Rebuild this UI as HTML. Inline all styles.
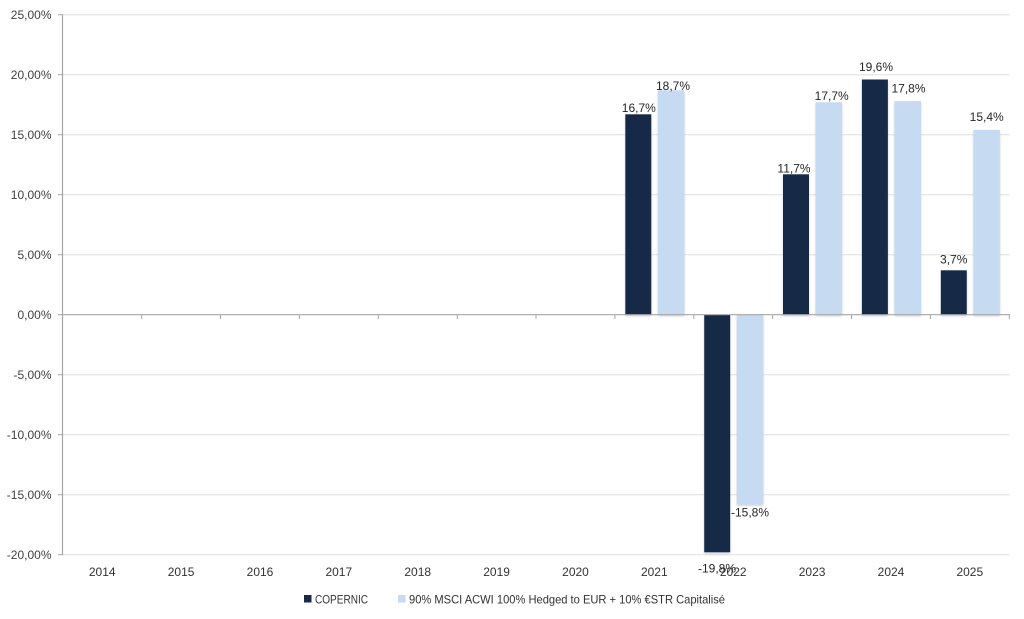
<!DOCTYPE html>
<html>
<head>
<meta charset="utf-8">
<style>
  html,body{margin:0;padding:0;background:#fff;}
  svg{display:block;}
  text{font-family:"Liberation Sans",sans-serif;}
</style>
</head>
<body>
<svg width="1024" height="619" viewBox="0 0 1024 619" xmlns="http://www.w3.org/2000/svg">
  <defs>
    <filter id="sh" x="-20%" y="-5%" width="140%" height="110%">
      <feGaussianBlur in="SourceAlpha" stdDeviation="1"/>
      <feOffset dx="0" dy="1.5" result="b"/>
      <feFlood flood-color="#8a9bb5" flood-opacity="0.45"/>
      <feComposite in2="b" operator="in"/>
      <feMerge><feMergeNode/><feMergeNode in="SourceGraphic"/></feMerge>
    </filter>
  </defs>
  <rect width="1024" height="619" fill="#fff"/>
  <!-- gridlines -->
  <g stroke="#e0e0e0" stroke-width="1">
    <line x1="63" y1="14.7" x2="1010" y2="14.7"/>
    <line x1="63" y1="74.7" x2="1010" y2="74.7"/>
    <line x1="63" y1="134.7" x2="1010" y2="134.7"/>
    <line x1="63" y1="194.7" x2="1010" y2="194.7"/>
    <line x1="63" y1="254.7" x2="1010" y2="254.7"/>
    <line x1="63" y1="374.7" x2="1010" y2="374.7"/>
    <line x1="63" y1="434.7" x2="1010" y2="434.7"/>
    <line x1="63" y1="494.7" x2="1010" y2="494.7"/>
    <line x1="63" y1="554.7" x2="1010" y2="554.7"/>
  </g>
  <!-- y tick marks -->
  <g stroke="#a6a6a6" stroke-width="1">
    <line x1="58" y1="14.7" x2="63" y2="14.7"/>
    <line x1="58" y1="74.7" x2="63" y2="74.7"/>
    <line x1="58" y1="134.7" x2="63" y2="134.7"/>
    <line x1="58" y1="194.7" x2="63" y2="194.7"/>
    <line x1="58" y1="254.7" x2="63" y2="254.7"/>
    <line x1="58" y1="314.7" x2="63" y2="314.7"/>
    <line x1="58" y1="374.7" x2="63" y2="374.7"/>
    <line x1="58" y1="434.7" x2="63" y2="434.7"/>
    <line x1="58" y1="494.7" x2="63" y2="494.7"/>
    <line x1="58" y1="554.7" x2="63" y2="554.7"/>
  </g>
  <!-- bars -->
  <g filter="url(#sh)">
    <rect x="625.3" y="114.3" width="26" height="200.4" fill="#172a46"/>
    <rect x="657.9" y="90.3" width="26.5" height="224.4" fill="#c6daf2"/>
    <rect x="704.2" y="314.7" width="26" height="237.6" fill="#172a46"/>
    <rect x="736.8" y="314.7" width="26.5" height="189.6" fill="#c6daf2"/>
    <rect x="783" y="174.3" width="26" height="140.4" fill="#172a46"/>
    <rect x="815.6" y="102.3" width="26.5" height="212.4" fill="#c6daf2"/>
    <rect x="861.9" y="79.5" width="26" height="235.2" fill="#172a46"/>
    <rect x="894.5" y="101.1" width="26.5" height="213.6" fill="#c6daf2"/>
    <rect x="940.8" y="270.3" width="26" height="44.4" fill="#172a46"/>
    <rect x="973.4" y="129.9" width="26.5" height="184.8" fill="#c6daf2"/>
  </g>
  <!-- axes -->
  <g stroke="#a6a6a6" stroke-width="1.2">
    <line x1="62.5" y1="14.7" x2="62.5" y2="554.7"/>
    <line x1="62.5" y1="314.7" x2="1010" y2="314.7"/>
  </g>
  <g stroke="#a6a6a6" stroke-width="1">
    <line x1="141.7" y1="314.7" x2="141.7" y2="319"/>
    <line x1="220.5" y1="314.7" x2="220.5" y2="319"/>
    <line x1="299.4" y1="314.7" x2="299.4" y2="319"/>
    <line x1="378.3" y1="314.7" x2="378.3" y2="319"/>
    <line x1="457.2" y1="314.7" x2="457.2" y2="319"/>
    <line x1="536" y1="314.7" x2="536" y2="319"/>
    <line x1="614.9" y1="314.7" x2="614.9" y2="319"/>
    <line x1="693.8" y1="314.7" x2="693.8" y2="319"/>
    <line x1="772.6" y1="314.7" x2="772.6" y2="319"/>
    <line x1="851.5" y1="314.7" x2="851.5" y2="319"/>
    <line x1="930.4" y1="314.7" x2="930.4" y2="319"/>
    <line x1="1009.3" y1="314.7" x2="1009.3" y2="319"/>
  </g>
  <!-- y labels -->
  <g font-size="12" fill="#404040" text-anchor="end">
    <text x="51.5" y="19">25,00%</text>
    <text x="51.5" y="79">20,00%</text>
    <text x="51.5" y="139">15,00%</text>
    <text x="51.5" y="199">10,00%</text>
    <text x="51.5" y="259">5,00%</text>
    <text x="51.5" y="319">0,00%</text>
    <text x="51.5" y="379">-5,00%</text>
    <text x="51.5" y="439">-10,00%</text>
    <text x="51.5" y="499">-15,00%</text>
    <text x="51.5" y="559">-20,00%</text>
  </g>
  <!-- x labels -->
  <g font-size="12" fill="#333333" text-anchor="middle">
    <text x="102.2" y="576">2014</text>
    <text x="181.1" y="576">2015</text>
    <text x="260" y="576">2016</text>
    <text x="338.8" y="576">2017</text>
    <text x="417.7" y="576">2018</text>
    <text x="496.6" y="576">2019</text>
    <text x="575.5" y="576">2020</text>
    <text x="654.3" y="576">2021</text>
    <text x="733.2" y="576">2022</text>
    <text x="812.1" y="576">2023</text>
    <text x="891" y="576">2024</text>
    <text x="969.8" y="576">2025</text>
  </g>
  <!-- data labels -->
  <g font-size="12" fill="#262626" text-anchor="middle">
    <text x="638.8" y="112">16,7%</text>
    <text x="673" y="90">18,7%</text>
    <text x="794" y="172.6">11,7%</text>
    <text x="831.7" y="100">17,7%</text>
    <text x="876" y="71">19,6%</text>
    <text x="908.5" y="92.6">17,8%</text>
    <text x="953.7" y="263.3">3,7%</text>
    <text x="986.7" y="121">15,4%</text>
    <text x="717" y="572.3">-19,8%</text>
    <text x="750" y="516.6">-15,8%</text>
  </g>
  <!-- legend -->
  <rect x="304" y="595" width="7.5" height="7.5" fill="#172a46"/>
  <text x="315" y="603.5" font-size="12" fill="#333333" textLength="53" lengthAdjust="spacingAndGlyphs">COPERNIC</text>
  <rect x="398" y="595" width="7.5" height="7.5" fill="#c6daf2"/>
  <text x="409" y="603.5" font-size="12" fill="#333333" textLength="316" lengthAdjust="spacingAndGlyphs">90% MSCI ACWI 100% Hedged to EUR + 10% €STR Capitalisé</text>
</svg>
</body>
</html>
